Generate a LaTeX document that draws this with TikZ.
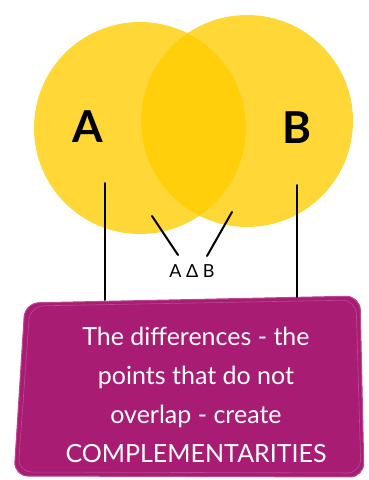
\documentclass[tikz,border=0pt]{standalone}
\usepackage{fontspec}
\setmainfont{Lato}
\definecolor{venn}{RGB}{255,205,0}
\definecolor{boxmag}{RGB}{168,28,116}
\begin{document}
\begin{tikzpicture}[x=1pt,y=-1pt,
  setcirc/.style={circle,fill=venn,fill opacity=0.78,draw=none,minimum size=212pt,inner sep=0pt},
  bigletter/.style={font=\fontsize{44}{44}\selectfont\bfseries},
  pointer/.style={draw=black,line width=2pt,line cap=round},
  msgbox/.style={fill=boxmag,draw=boxmag!80!white,line width=1pt,rounded corners=14pt},
  msgtext/.style={text=white,align=center,font=\fontsize{25}{39}\selectfont}]
\useasboundingbox (0,0) rectangle (368,480);
\node[setcirc] (ca) at (140,128) {};
\node[setcirc] (cb) at (247,121) {};
\node[bigletter] (la) at (88,127) {A};
\node[bigletter] (lb) at (297,128) {B};
\node[font=\fontsize{18}{18}\selectfont] (sd) at (192,271) {A Δ B};
\coordinate (sa) at (152,216);
\coordinate (sb) at (232,212);
\coordinate (ea) at (178,255);
\coordinate (eb) at (207,256);
\coordinate (ta) at (105,183);
\coordinate (tb) at (297,185);
\path[msgbox] (25,303) -- (360,296) -- (364,477) -- (14,476) -- cycle;
\draw[boxmag!60!white,line width=0.6pt,rounded corners=14pt,opacity=0.5] (30,306) -- (356,300) -- (361,473) -- (18,472) -- cycle;
\node[msgtext] (msg) at (196,395) {The differences - the\\points that do not\\overlap - create\\COMPLEMENTARITIES};
\coordinate (ba) at (105,300);
\coordinate (bb) at (297,297);
\draw[pointer] (ta) -- (ba);
\draw[pointer] (tb) -- (bb);
\draw[pointer] (sa) -- (ea);
\draw[pointer] (sb) -- (eb);
\end{tikzpicture}
\end{document}
